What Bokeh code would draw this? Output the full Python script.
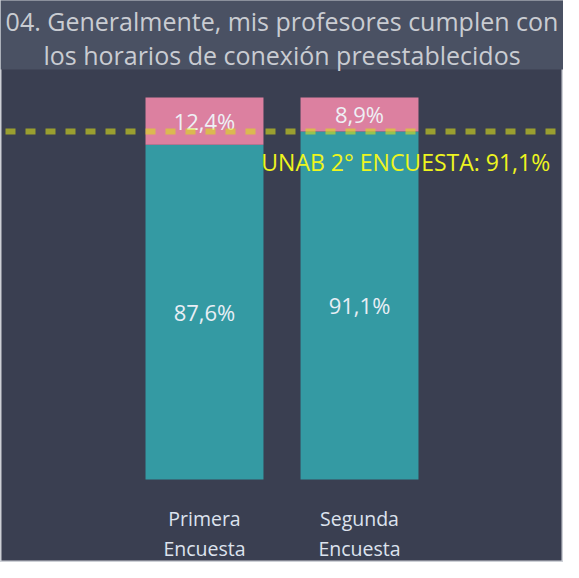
from bokeh.plotting import figure
from bokeh.models import FactorRange, Range1d, Span, BoxAnnotation, ColumnDataSource
from bokeh.core.properties import value
from bokeh.embed import file_html
from bokeh.resources import INLINE

# ---- data ----
categories = ["Primera Encuesta", "Segunda Encuesta"]
tick_labels = ["Primera\nEncuesta", "Segunda\nEncuesta"]
si_values = [87.6, 91.1]
no_values = [12.4, 8.9]
si_labels = ["87,6%", "91,1%"]
no_labels = ["12,4%", "8,9%"]
reference_value = 91.1
reference_label = "UNAB 2° ENCUESTA: 91,1%"
title_text = "04. Generalmente, mis profesores cumplen con\nlos horarios de conexión preestablecidos"

# ---- layout constants ----
W, H = 563, 562
px_per_unit = 3.82
bar_top_px = 97
bar_bottom_px = 479
y_end = 100 + bar_top_px / px_per_unit
y_start = -(H - bar_bottom_px) / px_per_unit
band_px = 69

BG = "#3a3f51"
BAND = "#4a5163"
PINK = "#dc80a0"
TEAL = "#349aa3"

p = figure(width=W, height=H, output_backend="svg", toolbar_location=None,
           x_range=FactorRange(factors=categories, range_padding=0.816,
                               range_padding_units="absolute"),
           y_range=Range1d(y_start, y_end),
           x_axis_location=None, y_axis_location=None,
           min_border=0, min_border_left=0, min_border_right=0,
           min_border_top=0, min_border_bottom=0)
p.background_fill_color = BG
p.border_fill_color = BG
p.xgrid.visible = False
p.ygrid.visible = False
p.outline_line_color = "#cdd0d6"
p.outline_line_width = 2

# title band
band = BoxAnnotation(bottom=y_end - band_px / px_per_unit, top=y_end + 10,
                     fill_color=BAND, fill_alpha=1.0, line_color=None,
                     level="underlay")
p.add_layout(band)

src = ColumnDataSource(dict(cat=categories, si=si_values, no=no_values,
                            si_lab=si_labels, no_lab=no_labels, tick=tick_labels,
                            si_mid=[v / 2 for v in si_values],
                            no_mid=[s + n / 2 for s, n in zip(si_values, no_values)],
                            top=[s + n for s, n in zip(si_values, no_values)]))

p.vbar(x="cat", bottom=0, top="si", width=0.761, source=src,
       fill_color=TEAL, line_color=None)
p.vbar(x="cat", bottom="si", top="top", width=0.761, source=src,
       fill_color=PINK, line_color=None)

p.text(x="cat", y="si_mid", text="si_lab", source=src,
       text_align="center", text_baseline="middle",
       text_font=value("Open Sans"), text_font_size="22px", text_color="#e8eef5")
p.text(x="cat", y="no_mid", text="no_lab", source=src,
       text_align="center", text_baseline="middle",
       text_font=value("Open Sans"), text_font_size="22px", text_color="#eef0f5")

# reference line
span = Span(location=reference_value, dimension="width",
            line_color="#dadf1b", line_alpha=0.6, line_width=6, line_dash="10 10",
            line_dash_offset=15)
p.add_layout(span)

p.text(x=[2.73], y=[reference_value - 8.0], text=[reference_label],
       text_align="right", text_baseline="middle",
       text_font=value("Open Sans"), text_font_size="23px", text_color="#eef51e")

# x tick labels
p.text(x="cat", y=y_start + (562 - 533) / px_per_unit, text="tick", source=src,
       text_align="center", text_baseline="middle", text_line_height=1.12,
       text_font=value("Open Sans"), text_font_size="19.5px", text_color="#dde3ee")

# title
p.text(x=[1.0], y=[y_end - 37.5 / px_per_unit], text=[title_text],
       text_align="center", text_baseline="middle", text_line_height=0.99,
       text_font=value("Open Sans"), text_font_size="25px", text_color="#c9ccd2")

open("out.html", "w").write(file_html(p, INLINE))
